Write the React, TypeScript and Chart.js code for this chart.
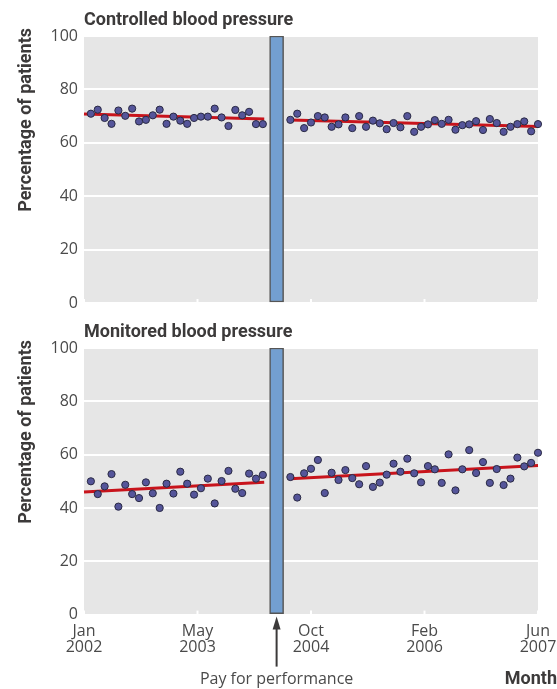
import React, { useEffect, useRef } from 'react';
import { Chart, registerables } from 'chart.js';

Chart.register(...registerables);

// ---- data ----
// x axis in months; observations are monthly
const xTickValues = [-1, 15.5, 32, 48.5, 65];
const xTickLabels = [['Jan', '2002'], ['May', '2003'], ['Oct', '2004'], ['Feb', '2006'], ['Jun', '2007']];
const yTickValues = [0, 20, 40, 60, 80, 100];
const interventionMonth = 27;
const preFirstMonth = 0;
const postFirstMonth = 29;
const preTrendMonths = [-1, 25.2];
const postTrendMonths = [29, 65];

const controlledPre = [70.9, 72.4, 69.3, 67.1, 72.1, 70.1, 72.8, 68.0, 68.6, 70.3, 72.4, 67.1, 69.8, 68.3, 67.1, 69.3, 69.8, 69.8, 72.8, 69.5, 66.3, 72.3, 70.3, 71.6, 67.0, 67.0];
const controlledPost = [68.6, 70.9, 65.5, 67.6, 70.0, 69.5, 66.0, 66.9, 69.5, 65.5, 70.0, 66.0, 68.3, 67.3, 65.1, 67.4, 65.8, 70.0, 64.1, 66.0, 66.9, 68.5, 67.1, 68.6, 64.9, 66.6, 66.9, 68.1, 64.8, 68.9, 67.4, 64.1, 66.0, 67.0, 68.0, 64.3, 67.0];
const controlledPreTrend = [70.8, 68.9];
const controlledPostTrend = [68.5, 66.1];

const monitoredPre = [50.0, 45.2, 48.1, 52.7, 40.5, 48.7, 45.2, 43.7, 49.6, 45.5, 40.0, 49.1, 45.4, 53.6, 49.1, 45.0, 47.4, 51.0, 41.7, 50.1, 53.9, 47.2, 45.6, 52.9, 51.0, 52.4];
const monitoredPost = [51.6, 43.9, 53.0, 54.7, 58.0, 45.6, 53.2, 50.5, 54.2, 51.2, 48.9, 55.7, 47.9, 49.5, 52.5, 56.6, 53.6, 58.5, 53.0, 49.6, 55.7, 54.5, 49.4, 60.1, 46.6, 54.5, 61.7, 53.1, 57.2, 49.4, 54.6, 48.6, 51.0, 58.9, 55.6, 56.9, 60.7];
const monitoredPreTrend = [46.0, 49.6];
const monitoredPostTrend = [51.0, 55.9];

const titles = ['Controlled blood pressure', 'Monitored blood pressure'];
const yAxisTitle = 'Percentage of patients';
const xAxisTitle = 'Month';
const interventionLabel = 'Pay for performance';

// ---- styles ----
const TEXT = '#3c3a3a';
const TICK = '#4a4a4a';
const BOLD_FONT = 'bold 18px Roboto';
const REG_FAMILY = "'Open Sans'";

const panelPlugin = {
  id: 'panel',
  beforeDraw(chart: any) {
    const { ctx, chartArea: a } = chart;
    ctx.save();
    ctx.fillStyle = '#e6e6e6';
    ctx.fillRect(a.left, a.top, a.right - a.left, a.bottom - a.top);
    ctx.restore();
  },
  beforeDatasetsDraw(chart: any) {
    const { ctx, chartArea: a } = chart;
    const xs = chart.scales.x;
    ctx.save();
    ctx.strokeStyle = '#ffffff';
    ctx.lineWidth = 2;
    xs.ticks.forEach((t: any) => {
      const px = xs.getPixelForValue(t.value);
      ctx.beginPath();
      ctx.moveTo(px, a.bottom);
      ctx.lineTo(px, a.bottom - 4);
      ctx.stroke();
    });
    ctx.restore();
  },
  afterDraw(chart: any, _args: any, opts: any) {
    const { ctx, chartArea: a } = chart;
    ctx.save();
    ctx.fillStyle = TEXT;
    ctx.font = BOLD_FONT;
    ctx.textAlign = 'left';
    ctx.textBaseline = 'alphabetic';
    ctx.fillText(opts.title, a.left, a.top - 11);

    ctx.save();
    ctx.translate(31, a.top - 8);
    ctx.rotate(-Math.PI / 2);
    ctx.textAlign = 'right';
    ctx.fillText(yAxisTitle, 0, 0);
    ctx.restore();

    if (opts.annotate) {
      const xs = chart.scales.x;
      const x = xs.getPixelForValue(interventionMonth);
      const tip = a.bottom + 2;
      ctx.strokeStyle = TEXT;
      ctx.lineWidth = 2;
      ctx.beginPath();
      ctx.moveTo(x, tip + 10);
      ctx.lineTo(x, a.bottom + 52);
      ctx.stroke();
      ctx.beginPath();
      ctx.moveTo(x, tip);
      ctx.lineTo(x - 4, tip + 13);
      ctx.lineTo(x + 4, tip + 13);
      ctx.closePath();
      ctx.fill();

      ctx.font = `16px ${REG_FAMILY}`;
      ctx.fillStyle = TICK;
      ctx.textAlign = 'center';
      ctx.fillText(interventionLabel, x, a.bottom + 69);
      ctx.font = BOLD_FONT;
      ctx.fillStyle = TEXT;
      ctx.textAlign = 'right';
      ctx.fillText(xAxisTitle, chart.width, a.bottom + 69);
    }
    ctx.restore();
  },
};

function makeConfig(idx: number, pre: number[], post: number[], preTrend: number[], postTrend: number[], bottom: boolean, canvasH: number, plotTop: number, plotBottom: number): any {
  const pointStyle = {
    pointRadius: 3.6,
    pointHoverRadius: 3.6,
    backgroundColor: '#55559a',
    borderColor: '#2a2a44',
    borderWidth: 1,
    clip: false,
    order: 1,
  };
  const trendStyle = {
    showLine: true,
    borderColor: '#c8141c',
    borderWidth: 3,
    pointRadius: 0,
    pointHoverRadius: 0,
    clip: false,
    order: 2,
  };
  return {
    type: 'scatter',
    data: {
      datasets: [
        {
          type: 'bar',
          data: [{ x: interventionMonth, y: 100 }],
          backgroundColor: '#739fd0',
          borderColor: '#555555',
          borderWidth: 1.5,
          borderSkipped: false,
          barThickness: 14,
          order: 3,
        },
        { ...trendStyle, data: preTrendMonths.map((m, i) => ({ x: m, y: preTrend[i] })) },
        { ...trendStyle, data: postTrendMonths.map((m, i) => ({ x: m, y: postTrend[i] })) },
        { ...pointStyle, data: pre.map((v, i) => ({ x: preFirstMonth + i, y: v })) },
        { ...pointStyle, data: post.map((v, i) => ({ x: postFirstMonth + i, y: v })) },
      ],
    },
    options: {
      animation: false,
      responsive: false,
      events: [],
      layout: { padding: { left: 0, right: 19, top: plotTop, bottom: 0 } },
      plugins: {
        legend: { display: false },
        tooltip: { enabled: false },
        panel: { title: titles[idx], annotate: bottom },
      },
      scales: {
        x: {
          type: 'linear',
          min: -1,
          max: 65,
          offset: false,
          afterBuildTicks: (s: any) => {
            s.ticks = xTickValues.map((v) => ({ value: v }));
          },
          afterFit: (s: any) => {
            s.height = canvasH - plotBottom;
          },
          grid: { display: false, offset: false },
          border: { display: false },
          ticks: {
            display: bottom,
            autoSkip: false,
            maxRotation: 0,
            minRotation: 0,
            padding: 0,
            color: TICK,
            font: { family: REG_FAMILY, size: 16, lineHeight: 1.05 },
            callback: (_v: any, i: number) => xTickLabels[i],
          },
        },
        y: {
          type: 'linear',
          min: 0,
          max: 100,
          afterBuildTicks: (s: any) => {
            s.ticks = yTickValues.map((v) => ({ value: v }));
          },
          afterFit: (s: any) => {
            s.width = 84;
          },
          grid: { color: '#ffffff', lineWidth: 2, drawTicks: false },
          border: { display: false },
          ticks: {
            padding: 6,
            color: TICK,
            font: { family: REG_FAMILY, size: 16 },
          },
        },
      },
    },
    plugins: [panelPlugin],
  };
}

export default function App() {
  const topRef = useRef<HTMLCanvasElement>(null);
  const botRef = useRef<HTMLCanvasElement>(null);

  useEffect(() => {
    const c1 = new Chart(topRef.current as any, makeConfig(0, controlledPre, controlledPost, controlledPreTrend, controlledPostTrend, false, 320, 36, 303));
    const c2 = new Chart(botRef.current as any, makeConfig(1, monitoredPre, monitoredPost, monitoredPreTrend, monitoredPostTrend, true, 369, 28, 294.6));
    return () => {
      c1.destroy();
      c2.destroy();
    };
  }, []);

  return (
    <div style={{ position: 'absolute', left: 0, top: 0, width: 557, height: 689, background: '#fff' }}>
      <canvas ref={topRef} width={557} height={320} style={{ position: 'absolute', left: 0, top: 0, width: 557, height: 320 }} />
      <canvas ref={botRef} width={557} height={369} style={{ position: 'absolute', left: 0, top: 320, width: 557, height: 369 }} />
    </div>
  );
}
